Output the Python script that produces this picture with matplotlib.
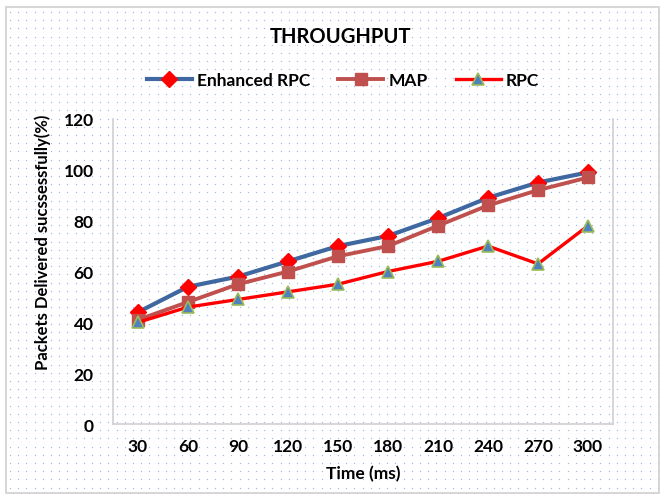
import matplotlib.pyplot as plt
import numpy as np

# data
times = ['30', '60', '90', '120', '150', '180', '210', '240', '270', '300']
enhanced_rpc = [44, 54, 58, 64, 70, 74, 81, 89, 95, 99]
map_vals = [41, 48, 55, 60, 66, 70, 78, 86, 92, 97]
rpc = [40, 46, 49, 52, 55, 60, 64, 70, 63, 78]
yticks = [0, 20, 40, 60, 80, 100, 120]

plt.rcParams['font.family'] = ['Lato', 'DejaVu Sans']
plt.rcParams['font.weight'] = 'bold'

W, H = 666, 502
fig = plt.figure(figsize=(W / 100, H / 100), dpi=100)
fig.patch.set_facecolor('white')

# dotted background pattern (Excel style fill) over the whole figure
bg = fig.add_axes([0, 0, 1, 1], zorder=-10)
bg.set_xlim(0, W)
bg.set_ylim(H, 0)
bg.axis('off')
gx, gy = np.meshgrid(np.arange(10, W - 6, 8.2), np.arange(13, H - 8, 8.2))
bg.scatter(gx.ravel(), gy.ravel(), s=0.9, color='#9dbbe0', linewidths=0)
# outer chart border
bg.add_patch(plt.Rectangle((6, 8), W - 13, H - 16, fill=False, edgecolor='#d0d0d0', lw=1.2))

# plot area in pixels: left 113, right 613, top 120, bottom 425
ax = fig.add_axes([113 / W, 1 - 425 / H, 500 / W, 305 / H])
ax.patch.set_alpha(0)
x = np.arange(len(times))

ax.plot(x, enhanced_rpc, color='#3f67a0', lw=3, marker='D', ms=8,
        mfc='#ff0000', mec='#ff0000', label='Enhanced RPC')
ax.plot(x, map_vals, color='#c0504d', lw=2.8, marker='s', ms=9,
        mfc='#c0504d', mec='#c0504d', label='MAP')
ax.plot(x, rpc, color='#ff0000', lw=2.4, marker='^', ms=9,
        mfc='#4f81bd', mec='#9bbb59', mew=1.2, label='RPC')

ax.set_xlim(-0.5, len(times) - 0.5)
ax.set_ylim(0, 120)
ax.set_xticks(x)
ax.set_xticklabels(times)
ax.set_yticks(yticks)
ax.tick_params(axis='both', length=0, labelsize=12.5, colors='black', pad=10)
ax.tick_params(axis='y', pad=14)
for lab in ax.get_xticklabels() + ax.get_yticklabels():
    lab.set_fontweight('bold')
for s in ax.spines.values():
    s.set_color('#d0d0d0')
    s.set_linewidth(1.2)
ax.spines['top'].set_visible(False)

ax.set_xlabel('Time (ms)', fontsize=12.5, fontweight='bold', labelpad=8)
ax.set_ylabel('Packets Delivered sucssessfully(%)', fontsize=12, fontweight='bold')
ax.yaxis.set_label_coords((51 - 113) / 500, (425 - 242) / 305)

fig.text(340 / W, 1 - 37 / H, 'THROUGHPUT', ha='center', va='center',
         fontsize=14.5, fontweight='bold')
fig.legend(loc='center', bbox_to_anchor=(343 / W, 1 - 81 / H), ncol=3, frameon=False,
           prop={'size': 12.5, 'weight': 'bold'}, handlelength=2.6,
           columnspacing=1.6, handletextpad=0.3)

fig.savefig('out.png', dpi=100)
